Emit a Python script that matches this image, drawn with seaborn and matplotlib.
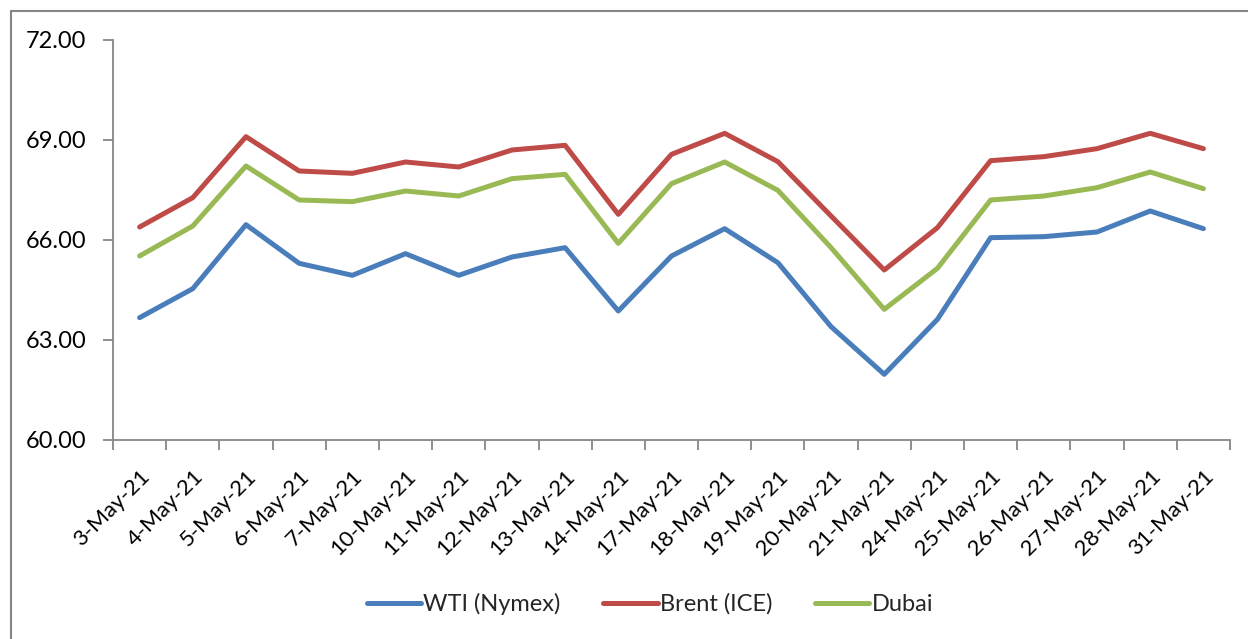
import matplotlib
matplotlib.use('Agg')
import matplotlib.pyplot as plt
import pandas as pd
import seaborn as sns
import numpy as np

# Data
dates = ['3-May-21', '4-May-21', '5-May-21', '6-May-21', '7-May-21', '10-May-21',
         '11-May-21', '12-May-21', '13-May-21', '14-May-21', '17-May-21', '18-May-21',
         '19-May-21', '20-May-21', '21-May-21', '24-May-21', '25-May-21', '26-May-21',
         '27-May-21', '28-May-21', '31-May-21']
wti = [63.67, 64.54, 66.46, 65.30, 64.94, 65.59, 64.94, 65.49, 65.77, 63.87, 65.52,
       66.34, 65.32, 63.40, 61.97, 63.62, 66.07, 66.10, 66.24, 66.87, 66.34]
brent = [66.39, 67.27, 69.10, 68.07, 68.00, 68.34, 68.19, 68.70, 68.84, 66.77, 68.57,
         69.20, 68.35, 66.72, 65.10, 66.37, 68.38, 68.50, 68.74, 69.20, 68.74]
dubai = [65.52, 66.42, 68.22, 67.20, 67.15, 67.47, 67.32, 67.84, 67.97, 65.90, 67.69,
         68.34, 67.49, 65.77, 63.92, 65.15, 67.20, 67.32, 67.57, 68.04, 67.54]
series = ['WTI (Nymex)', 'Brent (ICE)', 'Dubai']
colors = ['#4A7EBB', '#BE4B48', '#98B954']

df = pd.DataFrame({'pos': np.arange(len(dates)), 'WTI (Nymex)': wti,
                   'Brent (ICE)': brent, 'Dubai': dubai})
long_df = df.melt(id_vars='pos', var_name='series', value_name='price')

sns.set_style('white')
plt.rcParams['font.family'] = ['Lato', 'DejaVu Sans']

fig = plt.figure(figsize=(12.48, 6.39), dpi=100)
ax = fig.add_axes([113 / 1248, 1 - 440 / 639, (1230 - 113) / 1248, 400 / 639])

sns.lineplot(data=long_df, x='pos', y='price', hue='series', hue_order=series,
             palette=colors, linewidth=3.6, ax=ax, legend=True,
             solid_capstyle='round')

ax.set_xlim(-0.5, len(dates) - 0.5)
ax.set_ylim(60, 72)
ax.set_yticks([60, 63, 66, 69, 72])
ax.set_yticklabels(['%.2f' % v for v in [60, 63, 66, 69, 72]])
ax.set_xticks(np.arange(len(dates)))
ax.set_xticklabels(dates, rotation=45, ha='right', rotation_mode='anchor')
ax.set_xticks(np.arange(len(dates) + 1) - 0.5, minor=True)
ax.tick_params(axis='x', which='major', length=0, pad=19, labelsize=16,
               labelcolor='black')
ax.tick_params(axis='x', which='minor', length=7, width=1.3, color='#868686',
               direction='out', bottom=True)
ax.tick_params(axis='y', length=7, width=1.3, color='#868686', direction='out',
               left=True, pad=12, labelsize=17, labelcolor='black')
ax.set_xlabel('')
ax.set_ylabel('')

for s in ['top', 'right']:
    ax.spines[s].set_visible(False)
for s in ['left', 'bottom']:
    ax.spines[s].set_color('#868686')
    ax.spines[s].set_linewidth(1.3)

handles, labels = ax.get_legend_handles_labels()
ax.legend(handles, labels, loc='center', bbox_to_anchor=(650 / 1248, 1 - 604 / 639),
          bbox_transform=fig.transFigure, ncol=3, frameon=False, fontsize=17,
          handlelength=2.3, handletextpad=0.1, columnspacing=1.8)

# outer chart border (Excel style)
frame = plt.Rectangle((11 / 1248, -0.1), 1.2, 1 - 11 / 639 + 0.1,
                      transform=fig.transFigure, fill=False,
                      edgecolor='#868686', linewidth=1.5)
fig.add_artist(frame)

fig.savefig('out.png', dpi=100)
